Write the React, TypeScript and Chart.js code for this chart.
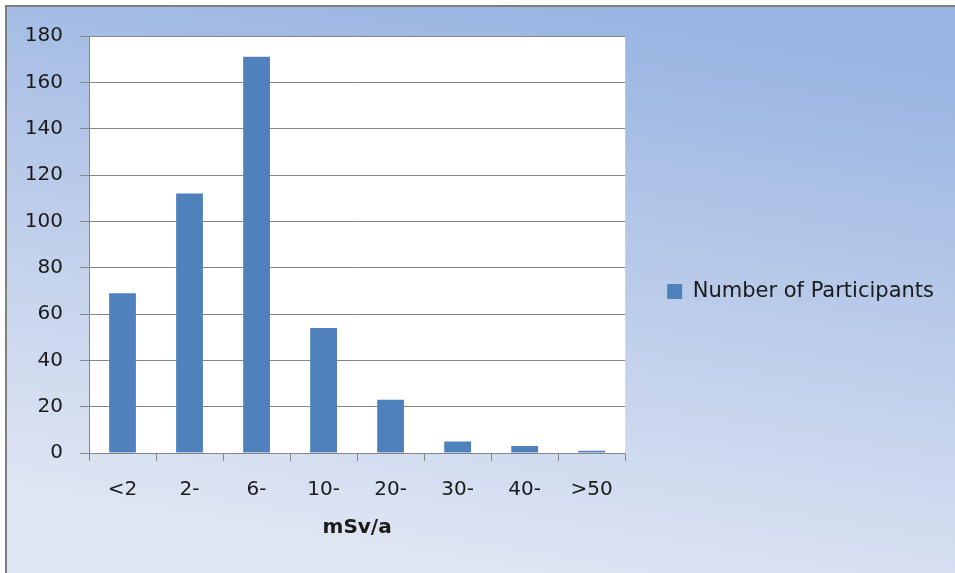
import React, { useEffect, useRef } from "react";
import { Chart, registerables } from "chart.js";

Chart.register(...registerables);

const categories: string[] = ["<2", "2-", "6-", "10-", "20-", "30-", "40-", ">50"];
const participants: number[] = [69, 112, 171, 54, 23, 5, 3, 1];
const seriesName = "Number of Participants";
const xTitle = "mSv/a";
const yMin = 0;
const yMax = 180;
const yStep = 20;

const W = 955;
const H = 573;
const FONT = "'DejaVu Sans', 'Open Sans', sans-serif";

const backgroundPlugin = {
  id: "bgPlugin",
  beforeDraw(chart: any) {
    const { ctx, chartArea } = chart;
    ctx.save();
    ctx.fillStyle = "#ffffff";
    ctx.fillRect(0, 0, W, H);
    const g = ctx.createLinearGradient(W * 0.6, 0, W * 0.5, H);
    g.addColorStop(0, "#98b4e2");
    g.addColorStop(0.5, "#bdcdea");
    g.addColorStop(1, "#dfe6f3");
    ctx.fillStyle = g;
    ctx.fillRect(7, 7, W - 7, H - 7);
    ctx.fillStyle = "#7f7f7f";
    ctx.fillRect(5, 5, W - 5, 2);
    ctx.fillRect(5, 5, 2, H - 5);
    ctx.fillStyle = "#ffffff";
    ctx.fillRect(chartArea.left, chartArea.top, chartArea.right - chartArea.left, chartArea.bottom - chartArea.top);
    ctx.restore();
  },
};

export default function App() {
  const ref = useRef<HTMLCanvasElement | null>(null);
  useEffect(() => {
    document.body.style.margin = "0";
    if (!ref.current) return;
    const chart = new Chart(ref.current, {
      type: "bar",
      data: {
        labels: categories,
        datasets: [
          {
            label: seriesName,
            data: participants,
            backgroundColor: "#4f81bd",
            borderWidth: 0,
            categoryPercentage: 1,
            barPercentage: 0.4,
          },
        ],
      },
      options: {
        animation: false,
        responsive: false,
        devicePixelRatio: 1,
        layout: { padding: { top: 36, left: 0, right: 11, bottom: 26 } },
        plugins: {
          tooltip: { enabled: false },
          legend: {
            position: "right",
            maxWidth: 330,
            labels: {
              boxWidth: 15,
              boxHeight: 15,
              padding: 42,
              color: "#1a1a1a",
              font: { family: FONT, size: 21 },
            },
          },
        },
        scales: {
          x: {
            afterFit: (s: any) => {
              s.height = 94;
            },
            grid: {
              offset: true,
              drawOnChartArea: false,
              drawTicks: true,
              tickLength: 8,
              color: "#868686",
            },
            border: { display: true, color: "#868686" },
            ticks: {
              color: "#1a1a1a",
              padding: 17,
              maxRotation: 0,
              font: { family: FONT, size: 20 },
            },
            title: {
              display: true,
              text: xTitle,
              color: "#1a1a1a",
              font: { family: FONT, size: 20, weight: "bold" },
              padding: { top: 0, bottom: 7 },
            },
          },
          y: {
            min: yMin,
            max: yMax,
            afterFit: (s: any) => {
              s.width = 89;
            },
            grid: {
              color: "#868686",
              drawTicks: true,
              tickLength: 9,
            },
            border: { display: true, color: "#868686" },
            ticks: {
              stepSize: yStep,
              color: "#1a1a1a",
              padding: 17,
              font: { family: FONT, size: 20 },
            },
          },
        },
      },
      plugins: [backgroundPlugin],
    });
    return () => chart.destroy();
  }, []);
  return (
    <div style={{ position: "absolute", left: 0, top: 0, width: W, height: H }}>
      <canvas ref={ref} width={W} height={H} style={{ display: "block", width: W, height: H }} />
    </div>
  );
}
